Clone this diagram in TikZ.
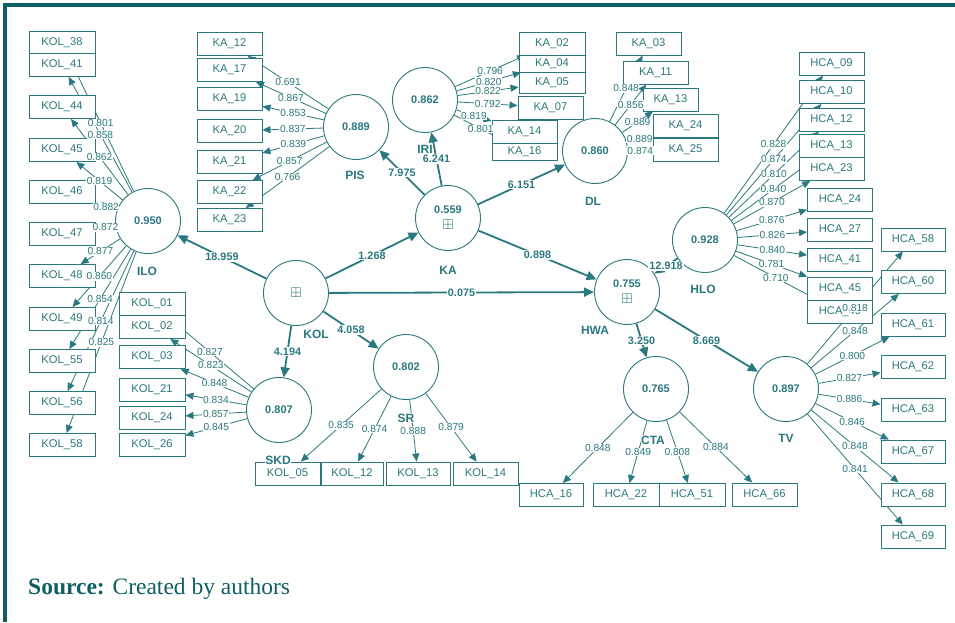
\documentclass[tikz,border=0pt]{standalone}
\usepackage{amssymb}
\usepackage{fontspec}
\setmainfont{Liberation Sans}
\newfontfamily\srcfont{Liberation Serif}
\usetikzlibrary{arrows.meta,positioning,backgrounds}
\definecolor{plsteal}{HTML}{2A7880}
\definecolor{frameteal}{HTML}{0E5F63}
\tikzset{
  lv/.style={draw=plsteal,fill=white,circle,line width=0.9pt,
             minimum size=65pt,inner sep=0pt,align=center,
             font=\fontsize{11}{12}\selectfont\bfseries,text=plsteal},
  ind/.style={draw=plsteal,fill=white,line width=0.9pt,
              minimum width=65pt,minimum height=23pt,inner sep=0pt,
              font=\fontsize{11.2}{12}\selectfont,text=plsteal},
  cname/.style={fill=white,inner sep=0.5pt,
                font=\fontsize{12}{12}\selectfont\bfseries,text=plsteal},
  load/.style={draw=plsteal,line width=0.8pt,-{Triangle[length=8pt,width=7pt]}},
  pathc/.style={draw=plsteal,line width=1.8pt,-{Triangle[length=10pt,width=9pt]}},
  ldval/.style={fill=white,inner sep=0.6pt,font=\fontsize{10.2}{11}\selectfont,text=plsteal},
  coef/.style={fill=white,inner sep=1pt,font=\fontsize{10.8}{11}\selectfont\bfseries,text=plsteal}
}
\newcommand{\hocmark}{{\fontsize{14}{14}\selectfont$\boxplus$}}

\begin{document}
\begin{tikzpicture}[x=1pt,y=-1pt]
  \useasboundingbox (0,0) rectangle (955,622);
  \draw[frameteal,line width=4pt] (955,5) -- (5,5) -- (5,622);

  % constructs
  \node[lv] (ILO) at (148,221) {0.950};
  \node[lv] (PIS) at (356,127) {0.889};
  \node[lv] (IRI) at (425,100) {0.862};
  \node[lv] (KA)  at (448,218) {0.559\\[4pt]\hocmark};
  \node[lv] (DL)  at (595,151) {0.860};
  \node[lv] (HLO) at (705,240) {0.928};
  \node[lv] (KOL) at (296,293) {\hocmark};
  \node[lv] (HWA) at (627,292) {0.755\\[4pt]\hocmark};
  \node[lv] (SKD) at (279,410) {0.807};
  \node[lv] (SR)  at (406,367) {0.802};
  \node[lv] (CTA) at (656,389) {0.765};
  \node[lv] (TV)  at (786,389) {0.897};

  % indicators
  \foreach \k/\y in {38/43,41/65,44/107,45/150,46/192,47/234,48/276,49/319,55/361,56/403,58/445}
    \node[ind,minimum width=66pt] (kol\k) at (62,\y) {KOL\_\k};
  \foreach \k/\y in {01/303.5,02/327,03/357,21/389.5,24/418,26/444.5}
    \node[ind,minimum width=66pt] (kol\k) at (152,\y) {KOL\_\k};
  \foreach \k/\y in {12/44,17/70,19/99,20/131,21/162,22/192,23/220}
    \node[ind] (ka\k) at (229.5,\y) {KA\_\k};
  \node[ind,minimum width=66pt] (ka02) at (552,43.5) {KA\_02};
  \node[ind,minimum width=66pt,minimum height=17pt] (ka04) at (552,63.5) {KA\_04};
  \node[ind,minimum width=66pt,minimum height=21pt] (ka05) at (552,82.5) {KA\_05};
  \node[ind] (ka07) at (550.5,107.5) {KA\_07};
  \node[ind] (ka14) at (524.5,131.5) {KA\_14};
  \node[ind,minimum height=17pt] (ka16) at (524.5,151.5) {KA\_16};
  \node[ind] (ka03) at (648.5,43.5) {KA\_03};
  \node[ind] (ka11) at (655.5,72.5) {KA\_11};
  \node[ind,minimum width=55pt] (ka13) at (670.5,99.5) {KA\_13};
  \node[ind] (ka24) at (685.5,126) {KA\_24};
  \node[ind] (ka25) at (685.5,150) {KA\_25};
  \foreach \k/\y in {09/63.5,10/92,12/119.5,13/146,23/169}
    \node[ind] (hca\k) at (831.5,\y) {HCA\_\k};
  \foreach \k/\y in {24/200,27/229.5,41/260,45/288.5,49/312}
    \node[ind] (hca\k) at (840,\y) {HCA\_\k};
  \foreach \k/\y in {58/239.5,60/282,61/325,62/367,63/409.5,67/451.5,68/494.5,69/536.5}
    \node[ind,minimum width=64pt] (hca\k) at (913,\y) {HCA\_\k};
  \node[ind] (kol05) at (287.5,473.5) {KOL\_05};
  \node[ind,minimum width=62pt] (kol12) at (352,473.5) {KOL\_12};
  \node[ind,minimum width=64pt] (kol13) at (418,473.5) {KOL\_13};
  \node[ind] (kol14) at (485.5,473.5) {KOL\_14};
  \node[ind,minimum width=64pt] (hca16) at (551,495) {HCA\_16};
  \node[ind,minimum width=66pt] (hca22) at (626,495) {HCA\_22};
  \node[ind,minimum width=66pt] (hca51) at (692,495) {HCA\_51};
  \node[ind] (hca66) at (764.5,494.5) {HCA\_66};

  % construct names
  \node[cname] (ILOname) at (147,271) {ILO};
  \node[cname] (PISname) at (355,175) {PIS};
  \node[cname] (IRIname) at (425,149) {IRI};
  \node[cname] (KAname)  at (448,270) {KA};
  \node[cname] (DLname)  at (593,201) {DL};
  \node[cname] (HLOname) at (703,289) {HLO};
  \node[cname] (KOLname) at (316,334) {KOL};
  \node[cname] (HWAname) at (595,330) {HWA};
  \node[cname] (SKDname) at (278,460) {SKD};
  \node[cname] (SRname)  at (406,418) {SR};
  \node[cname] (CTAname) at (653,440) {CTA};
  \node[cname] (TVname)  at (786,438) {TV};

  % outer loadings
  \foreach \l/\i/\v in {ILO/kol38/0.801,ILO/kol41/0.858,ILO/kol44/0.862,ILO/kol45/0.819,
      ILO/kol46/0.882,ILO/kol47/0.872,ILO/kol48/0.877,ILO/kol49/0.860,ILO/kol55/0.854,
      ILO/kol56/0.814,ILO/kol58/0.825,
      SKD/kol01/0.827,SKD/kol02/0.823,SKD/kol03/0.848,SKD/kol21/0.834,SKD/kol24/0.857,SKD/kol26/0.845,
      PIS/ka12/0.691,PIS/ka17/0.867,PIS/ka19/0.853,PIS/ka20/0.837,PIS/ka21/0.839,PIS/ka22/0.857,PIS/ka23/0.766,
      IRI/ka02/0.796,IRI/ka04/0.820,IRI/ka05/0.822,IRI/ka07/0.792,IRI/ka14/0.819,IRI/ka16/0.801,
      DL/ka03/0.848,DL/ka11/0.856,DL/ka13/0.889,DL/ka24/0.889,DL/ka25/0.874,
      HLO/hca09/0.828,HLO/hca10/0.874,HLO/hca12/0.810,HLO/hca13/0.840,HLO/hca23/0.870,
      HLO/hca24/0.876,HLO/hca27/0.826,HLO/hca41/0.840,HLO/hca45/0.781,HLO/hca49/0.710,
      TV/hca58/0.818,TV/hca60/0.848,TV/hca61/0.800,TV/hca62/0.827,TV/hca63/0.886,
      TV/hca67/0.846,TV/hca68/0.848,TV/hca69/0.841,
      SR/kol05/0.835,SR/kol12/0.874,SR/kol13/0.888,SR/kol14/0.879,
      CTA/hca16/0.848,CTA/hca22/0.849,CTA/hca51/0.808,CTA/hca66/0.884}{
    \begin{scope}[on background layer]
      \draw[load] (\l) -- (\i);
    \end{scope}
    \path (\l) -- node[ldval]{\v} (\i);
  }

  % structural paths
  \foreach \a/\b/\v in {KOL/ILO/18.959,KOL/KA/1.268,KOL/HWA/0.075,KOL/SKD/4.194,KOL/SR/4.058,
      KA/PIS/7.975,KA/IRI/6.241,KA/DL/6.151,KA/HWA/0.898,HLO/HWA/12.918,
      HWA/CTA/3.250,HWA/TV/8.669}{
    \begin{scope}[on background layer]
      \draw[pathc] (\a) -- (\b);
    \end{scope}
    \path (\a) -- node[coef]{\v} (\b);
  }

  \node[anchor=base west,inner sep=0pt,text=frameteal,
        font=\srcfont\fontsize{23.5}{26}\selectfont] (src) at (28,594)
        {\textbf{Source:} Created by authors};
\end{tikzpicture}
\end{document}
